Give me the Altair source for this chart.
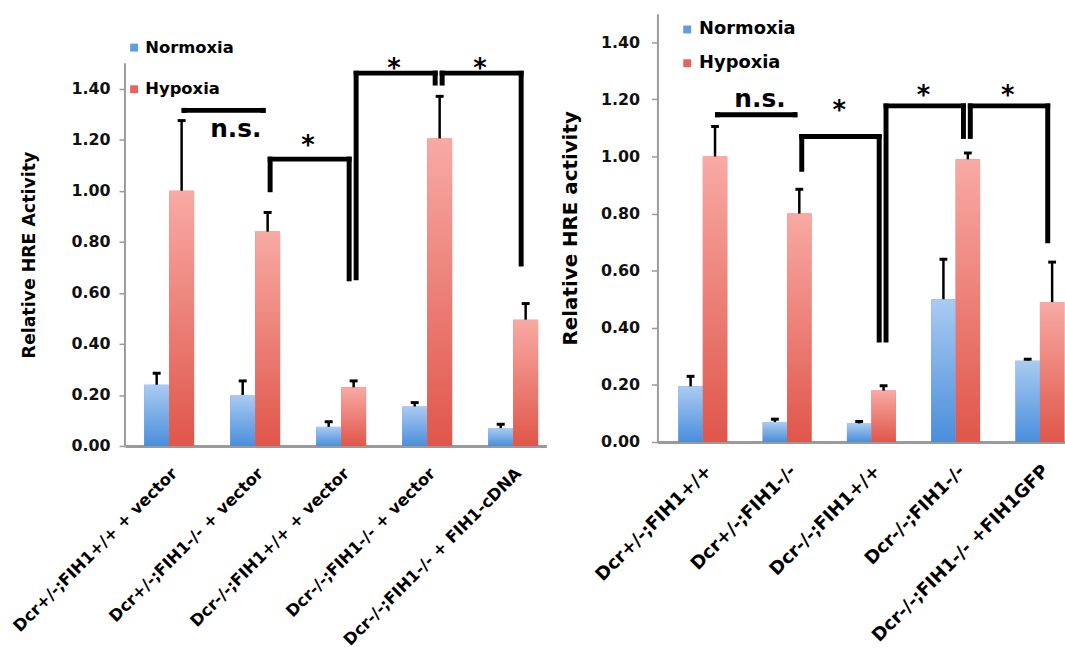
import altair as alt
import pandas as pd

conditions = ["Normoxia", "Hypoxia"]
y_ticks = [0.0, 0.2, 0.4, 0.6, 0.8, 1.0, 1.2, 1.4]

# ---- left panel data ----
left_groups = ["Dcr+/-;FIH1+/+ + vector", "Dcr+/-;FIH1-/- + vector",
               "Dcr-/-;FIH1+/+ + vector", "Dcr-/-;FIH1-/- + vector",
               "Dcr-/-;FIH1-/- + FIH1-cDNA"]
left_normoxia = [0.24, 0.20, 0.075, 0.155, 0.07]
left_normoxia_err = [0.285, 0.255, 0.095, 0.17, 0.085]
left_hypoxia = [1.00, 0.84, 0.23, 1.205, 0.495]
left_hypoxia_err = [1.275, 0.915, 0.255, 1.37, 0.558]

left_br_from = [0, 1, 2, 3]
left_br_to = [1, 2, 3, 4]
left_br_top = [1.315, 1.124, 1.461, 1.461]
left_br_left_end = [1.315, 1.004, 0.659, 1.422]
left_br_right_end = [1.315, 0.655, 1.422, 0.713]
left_br_label = ["n.s.", "*", "*", "*"]
left_br_label_y = [1.24, 1.198, 1.50, 1.50]

# ---- right panel data ----
right_groups = ["Dcr+/-;FIH1+/+", "Dcr+/-;FIH1-/-", "Dcr-/-;FIH1+/+",
                "Dcr-/-;FIH1-/-", "Dcr-/-;FIH1-/- +FIH1GFP"]
right_normoxia = [0.195, 0.07, 0.065, 0.50, 0.285]
right_normoxia_err = [0.23, 0.08, 0.072, 0.64, 0.29]
right_hypoxia = [1.00, 0.80, 0.18, 0.99, 0.49]
right_hypoxia_err = [1.105, 0.885, 0.197, 1.012, 0.63]

right_br_from = [0, 1, 2, 3]
right_br_to = [1, 2, 3, 4]
right_br_top = [1.146, 1.07, 1.177, 1.177]
right_br_left_end = [1.146, 0.955, 0.357, 1.07]
right_br_right_end = [1.146, 0.357, 1.07, 0.705]
right_br_label = ["n.s.", "*", "*", "*"]
right_br_label_y = [1.20, 1.18, 1.233, 1.233]

BLUE = "#5f9de3"
RED = "#e8645a"
FONT = "DejaVu Sans"
AXIS_GRAY = "#9a9a9a"

blue_grad = alt.LinearGradient(gradient="linear", x1=0, x2=0, y1=0, y2=1,
                               stops=[alt.GradientStop(color="#aacbf2", offset=0),
                                      alt.GradientStop(color="#4a8edb", offset=1)])
red_grad = alt.LinearGradient(gradient="linear", x1=0, x2=0, y1=0, y2=1,
                              stops=[alt.GradientStop(color="#f8aaa4", offset=0),
                                     alt.GradientStop(color="#e0564a", offset=1)])


def panel(groups, norm, norm_err, hyp, hyp_err,
          br_from, br_to, br_top, br_l, br_r, br_lab, br_lab_y,
          width, height, ymax, ytitle, title_x, title_y, title_size,
          tick_font, tick_pad, label_font, legend_font, legend_x, legend_y, legend_row,
          pad_outer, align, label_pad, ns_dx, draw_domain):
    bars = pd.DataFrame({
        "group": groups * 2,
        "condition": ["Normoxia"] * 5 + ["Hypoxia"] * 5,
        "value": norm + hyp,
        "err": norm_err + hyp_err,
    })
    br = pd.DataFrame({
        "g_from": [groups[i] for i in br_from],
        "g_to": [groups[i] for i in br_to],
        "top": br_top,
        "lend": br_l,
        "rend": br_r,
        "label": br_lab,
        "label_y": br_lab_y,
    })

    xs = alt.Scale(domain=groups, paddingInner=0.42, paddingOuter=pad_outer, align=align)
    ys = alt.Scale(domain=[0, ymax], nice=False, zero=True)
    xo = alt.Scale(domain=conditions, paddingInner=0, paddingOuter=0)

    xaxis = alt.Axis(title=None, labelAngle=-45, labelFont=FONT, labelFontSize=label_font,
                     labelFontWeight="bold",
                     labelColor="#000000", labelLimit=500, labelOverlap=False, ticks=False,
                     domainColor=AXIS_GRAY, domainWidth=3, labelPadding=label_pad)
    yaxis = alt.Axis(values=y_ticks, format=".2f", title=ytitle, titleFont=FONT,
                     titleFontWeight="bold", titleFontSize=title_size, titleColor="#000000",
                     titleX=title_x, titleY=title_y, titleAngle=-90, titleAlign="center",
                     titleBaseline="middle",
                     labelFont=FONT, labelFontSize=tick_font, labelFontWeight="bold",
                     labelColor="#111111",
                     labelPadding=tick_pad, tickColor=AXIS_GRAY, tickSize=6, tickWidth=1.5,
                     grid=False, domain=draw_domain, domainColor=AXIS_GRAY, domainWidth=2)

    def X(field, bp=None):
        if bp is None:
            return alt.X(field, scale=xs, axis=xaxis, sort=groups)
        return alt.X(field, scale=xs, axis=xaxis, sort=groups, bandPosition=bp)

    def Y(field):
        return alt.Y(field, scale=ys, axis=yaxis)

    base = alt.Chart(bars)
    legend_bars = base.mark_bar().encode(
        x=X("group:N"),
        xOffset=alt.XOffset("condition:N", scale=xo, sort=conditions),
        y=Y("value:Q"),
        color=alt.Color("condition:N",
                        scale=alt.Scale(domain=conditions, range=[BLUE, RED]),
                        legend=alt.Legend(title=None, orient="none", legendX=legend_x,
                                          legendY=legend_y, direction="vertical",
                                          symbolType="square", symbolSize=64,
                                          symbolStrokeWidth=0, labelFont=FONT,
                                          labelFontSize=legend_font, labelFontWeight="bold",
                                          labelColor="#000000",
                                          rowPadding=legend_row, labelOffset=3, padding=0)),
    )

    def grad_layer(cond, grad):
        return base.transform_filter(alt.datum.condition == cond).mark_bar(fill=grad).encode(
            x=X("group:N"),
            xOffset=alt.XOffset("condition:N", scale=xo, sort=conditions),
            y=Y("value:Q"),
        )

    def err_layer(cond, bp):
        b = base.transform_filter(alt.datum.condition == cond)
        stem = b.mark_rule(color="#000000", strokeWidth=2.5).encode(
            x=X("group:N", bp),
            y=Y("value:Q"),
            y2="err:Q",
        )
        cap = b.mark_rule(color="#000000", strokeWidth=3).encode(
            x=X("group:N", bp - 0.08),
            x2=alt.X2("group", bandPosition=bp + 0.08),
            y=Y("err:Q"),
        )
        return stem + cap

    bb = alt.Chart(br)
    hline = bb.mark_rule(color="#000000", strokeWidth=5, strokeCap="square").encode(
        x=X("g_from:N", 0.8),
        x2=alt.X2("g_to", bandPosition=0.66),
        y=Y("top:Q"),
    )
    lleg = bb.mark_rule(color="#000000", strokeWidth=5, strokeCap="square").encode(
        x=X("g_from:N", 0.8),
        y=Y("top:Q"),
        y2="lend:Q",
    )
    rleg = bb.mark_rule(color="#000000", strokeWidth=5, strokeCap="square").encode(
        x=X("g_to:N", 0.66),
        y=Y("top:Q"),
        y2="rend:Q",
    )
    stars = bb.transform_filter(alt.datum.label == "*").mark_text(
        font=FONT, fontSize=26, fontWeight="bold", color="#000000",
        baseline="alphabetic", dy=14, dx=28).encode(
        x=X("g_from:N", 1),
        y=Y("label_y:Q"),
        text="label:N",
    )
    ns = bb.transform_filter(alt.datum.label == "n.s.").mark_text(
        font=FONT, fontSize=25, fontWeight="bold", color="#000000",
        baseline="alphabetic", dy=8, dx=ns_dx).encode(
        x=X("g_from:N", 1),
        y=Y("label_y:Q"),
        text="label:N",
    )

    layers = [legend_bars, grad_layer("Normoxia", blue_grad), grad_layer("Hypoxia", red_grad),
              err_layer("Normoxia", 0.25), err_layer("Hypoxia", 0.75),
              hline, lleg, rleg, stars, ns]
    if not draw_domain:
        axis_line = alt.Chart(pd.DataFrame({"a": [0.0], "b": [1.5]})).mark_rule(
            color=AXIS_GRAY, strokeWidth=2).encode(
            x=alt.value(0),
            y=Y("a:Q"),
            y2="b:Q",
        )
        layers.append(axis_line)
    return alt.layer(*layers).properties(width=width, height=height)


left = panel(left_groups, left_normoxia, left_normoxia_err, left_hypoxia, left_hypoxia_err,
             left_br_from, left_br_to, left_br_top, left_br_left_end, left_br_right_end,
             left_br_label, left_br_label_y,
             width=425, height=436, ymax=1.694, ytitle="Relative HRE Activity",
             title_x=-96, title_y=243, title_size=17.5,
             tick_font=16, tick_pad=9, label_font=16.5, legend_font=16.5, legend_x=1,
             legend_y=26, legend_row=25, pad_outer=0.16, align=0.7, label_pad=19,
             ns_dx=42, draw_domain=False)

right = panel(right_groups, right_normoxia, right_normoxia_err, right_hypoxia, right_hypoxia_err,
              right_br_from, right_br_to, right_br_top, right_br_left_end, right_br_right_end,
              right_br_label, right_br_label_y,
              width=411, height=432, ymax=1.5, ytitle="Relative HRE activity",
              title_x=-88, title_y=216, title_size=20,
              tick_font=16, tick_pad=12, label_font=18.3, legend_font=18, legend_x=21,
              legend_y=7, legend_row=16, pad_outer=0.128, align=0.97, label_pad=20,
              ns_dx=33, draw_domain=True)

chart = alt.hconcat(left, right, spacing=14).resolve_scale(
    x="independent", y="independent", color="independent", xOffset="independent"
).resolve_legend(color="independent").properties(
    padding={"left": 10, "top": 11, "right": 0, "bottom": 0},
    background="white",
).configure_view(stroke=None)

chart.save("out.html", embed_options={"renderer": "svg", "actions": False})
